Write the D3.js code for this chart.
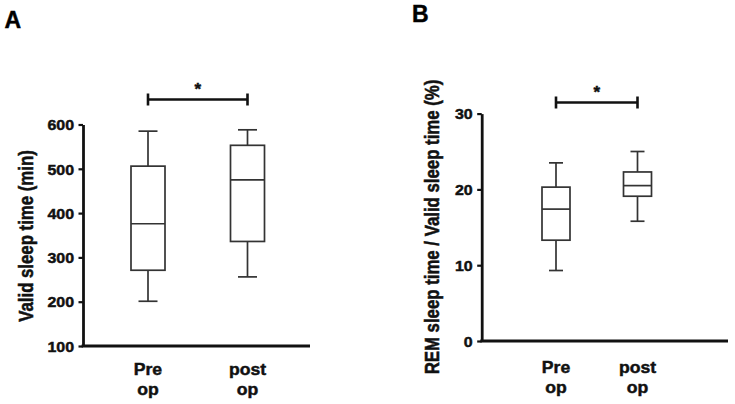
<!DOCTYPE html>
<html>
<head>
<meta charset="utf-8">
<script src="https://cdn.jsdelivr.net/npm/d3@7"></script>
<style>
  html, body { margin: 0; padding: 0; background: #fff; }
  svg { display: block; font-family: "Liberation Sans", Arial, sans-serif; }
</style>
</head>
<body>
<svg id="chart" width="735" height="404"></svg>
<script>
// ---------------- data ----------------
const categories = ["Pre op", "post op"];

// Panel A: Valid sleep time (min)
const ticksA = [100, 200, 300, 400, 500, 600];
const minA = [201, 256];
const q1A = [271, 336];
const medianA = [376, 475];
const q3A = [506, 553];
const maxA = [585, 588];

// Panel B: REM sleep time / Valid sleep time (%)
const ticksB = [0, 10, 20, 30];
const minB = [9.3, 15.8];
const q1B = [13.3, 19.1];
const medianB = [17.4, 20.5];
const q3B = [20.3, 22.3];
const maxB = [23.5, 25.0];

const sigLabel = "*";
const panelLabels = ["A", "B"];
const yTitles = ["Valid sleep time (min)", "REM sleep time / Valid sleep time (%)"];

// ---------------- drawing ----------------
const svg = d3.select("#chart");
const STRETCH = 1.1;
const TEXT_STROKE = 0.45;

function stretchAround(x, y) {
  return `translate(${x},${y}) scale(${STRETCH},1) translate(${-x},${-y})`;
}

function boldText(sel) {
  return sel.attr("font-weight", "bold").attr("fill", "#111")
    .attr("stroke", "#111").attr("stroke-width", TEXT_STROKE);
}

function drawPanel(cfg) {
  const g = svg.append("g");
  const y = d3.scaleLinear().domain(cfg.domain).range([cfg.yBottom, cfg.yTop]);
  const x = d3.scalePoint().domain(categories).range(cfg.centers);

  // y axis
  const yAxis = d3.axisLeft(y).tickValues(cfg.ticks).tickSize(4.5).tickSizeOuter(0).tickPadding(4.5);
  const ya = g.append("g").attr("transform", `translate(${cfg.xAxisLeft},0)`).call(yAxis);
  ya.select(".domain").attr("stroke", "#111").attr("stroke-width", 2.8);
  ya.selectAll(".tick line").attr("stroke", "#111").attr("stroke-width", 2.2);
  ya.selectAll(".tick text")
    .call(boldText)
    .attr("font-size", 14.5)
    .attr("font-family", "Liberation Sans, Arial, sans-serif")
    .attr("dy", "0.36em")
    .attr("transform", function() {
      const tx = +d3.select(this).attr("x");
      return stretchAround(tx, 0);
    });

  // x axis line
  g.append("line")
    .attr("x1", cfg.xAxisLeft - 1.4).attr("x2", cfg.xAxisRight)
    .attr("y1", y(cfg.domain[0])).attr("y2", y(cfg.domain[0]))
    .attr("stroke", "#111").attr("stroke-width", 2.8);

  // category labels (two lines)
  categories.forEach(c => {
    const parts = c.split(" ");
    parts.forEach((p, k) => {
      const cx = x(c), cy = cfg.labelBase + k * 20.5;
      g.append("text")
        .attr("x", cx).attr("y", cy)
        .attr("text-anchor", "middle")
        .attr("font-size", 16)
        .call(boldText)
        .attr("transform", stretchAround(cx, cy))
        .text(p);
    });
  });

  // boxes
  const bw = cfg.boxWidth, cw = cfg.capWidth;
  categories.forEach((c, i) => {
    const cx = x(c);
    const bx = g.append("g").attr("stroke", "#333").attr("stroke-width", 1.7).attr("fill", "none");
    // whiskers
    bx.append("line").attr("x1", cx).attr("x2", cx).attr("y1", y(cfg.q3[i])).attr("y2", y(cfg.max[i]));
    bx.append("line").attr("x1", cx).attr("x2", cx).attr("y1", y(cfg.q1[i])).attr("y2", y(cfg.min[i]));
    bx.append("line").attr("x1", cx - cw / 2).attr("x2", cx + cw / 2).attr("y1", y(cfg.max[i])).attr("y2", y(cfg.max[i]));
    bx.append("line").attr("x1", cx - cw / 2).attr("x2", cx + cw / 2).attr("y1", y(cfg.min[i])).attr("y2", y(cfg.min[i]));
    // box
    bx.append("rect")
      .attr("x", cx - bw / 2).attr("width", bw)
      .attr("y", y(cfg.q3[i])).attr("height", y(cfg.q1[i]) - y(cfg.q3[i]))
      .attr("fill", "#fff");
    bx.append("line").attr("x1", cx - bw / 2).attr("x2", cx + bw / 2).attr("y1", y(cfg.median[i])).attr("y2", y(cfg.median[i]));
  });

  // significance bracket
  const x0 = x(categories[0]), x1 = x(categories[1]);
  const sb = g.append("g").attr("stroke", "#111").attr("stroke-width", 2.6);
  sb.append("line").attr("x1", x0).attr("x2", x1).attr("y1", cfg.sigY).attr("y2", cfg.sigY);
  sb.append("line").attr("x1", x0).attr("x2", x0).attr("y1", cfg.sigY - 6).attr("y2", cfg.sigY + 6);
  sb.append("line").attr("x1", x1).attr("x2", x1).attr("y1", cfg.sigY - 6).attr("y2", cfg.sigY + 6);
  g.append("text")
    .attr("x", (x0 + x1) / 2).attr("y", cfg.sigY - 5)
    .attr("text-anchor", "middle")
    .attr("font-size", 17)
    .call(boldText)
    .text(sigLabel);

  // y title
  g.append("text")
    .attr("transform", `translate(${cfg.titleX},${cfg.titleY}) scale(1.22,1) rotate(-90)`)
    .attr("text-anchor", "middle")
    .attr("font-size", 16.8)
    .call(boldText)
    .text(cfg.title);

  // panel label
  g.append("text")
    .attr("x", cfg.letterX).attr("y", cfg.letterY)
    .attr("font-size", 23)
    .call(boldText)
    .attr("fill", "#000").attr("stroke", "#000")
    .text(cfg.letter);
}

drawPanel({
  domain: [100, 600], ticks: ticksA,
  yBottom: 346, yTop: 124.5,
  xAxisLeft: 83, xAxisRight: 310,
  centers: [148, 247.5],
  boxWidth: 34, capWidth: 19,
  min: minA, q1: q1A, median: medianA, q3: q3A, max: maxA,
  sigY: 99.5, labelBase: 375,
  titleX: 33, titleY: 236, title: yTitles[0],
  letter: panelLabels[0], letterX: 4.5, letterY: 27.5
});

drawPanel({
  domain: [0, 30], ticks: ticksB,
  yBottom: 341, yTop: 113.6,
  xAxisLeft: 481.7, xAxisRight: 728,
  centers: [556, 637.5],
  boxWidth: 28, capWidth: 14,
  min: minB, q1: q1B, median: medianB, q3: q3B, max: maxB,
  sigY: 102.5, labelBase: 373,
  titleX: 439, titleY: 227, title: yTitles[1],
  letter: panelLabels[1], letterX: 412, letterY: 21.7
});
</script>
</body>
</html>
